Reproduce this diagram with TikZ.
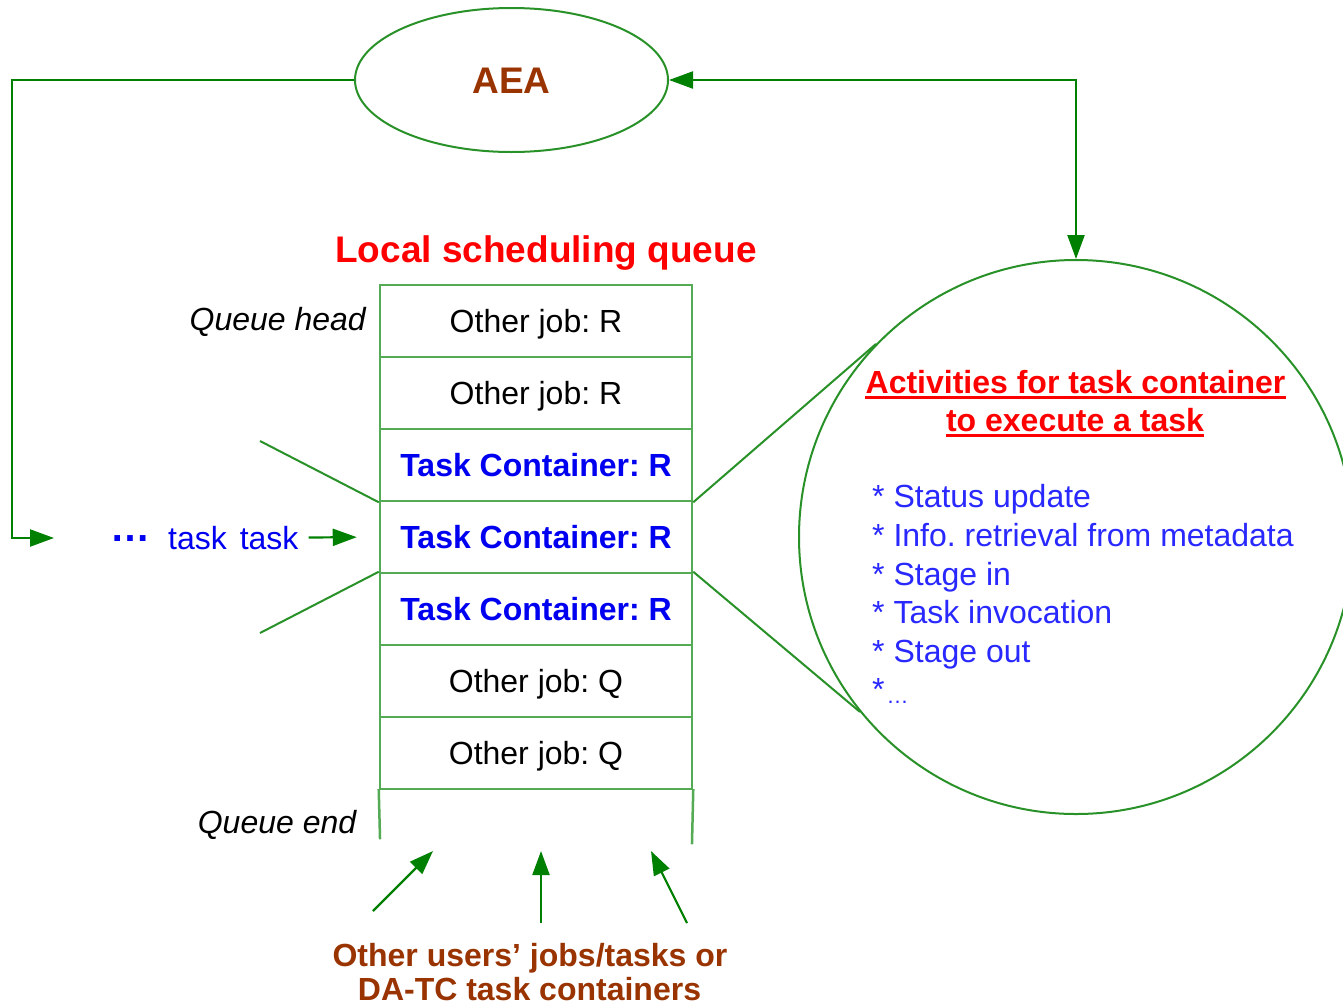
\documentclass[tikz,border=0pt]{standalone}
\usepackage{fontspec}
\setmainfont{Liberation Sans}
\usetikzlibrary{shapes.geometric,arrows.meta}
\definecolor{boxg}{RGB}{85,170,85}
\definecolor{lineg}{RGB}{40,145,40}
\definecolor{arrg}{RGB}{0,128,0}
\definecolor{brn}{RGB}{153,51,0}
\definecolor{tblue}{RGB}{0,0,240}
\definecolor{lblue}{RGB}{40,40,255}
\definecolor{tred}{RGB}{255,0,0}
\newcommand{\fsz}[2]{\fontsize{#1pt}{#2pt}\selectfont}
\frenchspacing
\begin{document}
\frenchspacing
\begin{tikzpicture}[x=1pt,y=-1pt,
  row/.style={draw=boxg,line width=2.5pt,rectangle,minimum width=312pt,minimum height=72pt,
    inner sep=0pt,text height=23pt,text depth=0pt,font=\fsz{32}{38}},
  tcrow/.style={row,text=tblue,font=\bfseries\fsz{32}{38}},
  arr/.style={draw=arrg,line width=2.2pt,-{Triangle[length=24pt,width=17pt]}},
  darr/.style={draw=arrg,line width=2.2pt,{Triangle[length=24pt,width=17pt]}-{Triangle[length=24pt,width=17pt]}},
  thin/.style={draw=lineg,line width=2pt},
  lbl/.style={inner sep=0pt,font=\fsz{32}{38}},
  item/.style={lbl,anchor=base west,text=lblue},
  ul/.style={draw=tred,line width=2.5pt},
  qside/.style={draw=boxg,line width=2.5pt,line cap=rect}
]
\useasboundingbox (0,0) rectangle (1343,1007);
\fill[white] (0,0) rectangle (1343,1007);
\clip (0,0) rectangle (1343,1007);

% AEA ellipse
\node[ellipse,draw=lineg,line width=2pt,minimum width=313pt,minimum height=144pt,inner sep=0pt,
  text height=26.5pt,text depth=0pt,text=brn,font=\bfseries\fsz{37}{40}] (aea) at (511.5,80) {AEA};

% title
\node[lbl,anchor=base,text=tred,font=\bfseries\fsz{37}{40}] (title) at (546,262) {Local scheduling queue};

% queue rows
\node[row]   (r1) at (536,321) {Other job: R};
\node[row]   (r2) at (536,393) {Other job: R};
\node[tcrow] (r3) at (536,465) {Task Container: R};
\node[tcrow] (r4) at (536,537) {Task Container: R};
\node[tcrow] (r5) at (536,609) {Task Container: R};
\node[row]   (r6) at (536,681) {Other job: Q};
\node[row]   (r7) at (536,753) {Other job: Q};
\coordinate (qbl) at (380,838);
\coordinate (qbr) at (692,843);
\draw[qside] (r7.south west) -- (qbl);
\draw[qside] (r7.south east) -- (qbr);

\node[lbl,anchor=base east,font=\itshape\fsz{32}{38}] (qh) at (366,330) {Queue head};
\node[lbl,anchor=base,font=\itshape\fsz{32}{38}] (qe) at (277,833) {Queue end};

% big circle
\node[circle,draw=lineg,line width=2pt,minimum size=554pt,inner sep=0pt] (circ) at (1076,537) {};

% lines to circle and to the left
\coordinate (dl1) at (260,441);
\coordinate (dl2) at (260,633);
\draw[thin] (dl1) -- (r3.south west);
\draw[thin] (dl2) -- (r5.north west);
\draw[thin] (r3.south east) -- (circ.136);
\draw[thin] (r5.north east) -- (circ.219);

% AEA connectors
\coordinate (lc) at (12,538);
\coordinate (le) at (54,538);
\draw[arr] (aea.west) -| (lc) -- (le);
\draw[darr] (circ.north) |- (aea.east);

% task task
\node[lbl,anchor=base west,text=tblue,font=\bfseries\fsz{40}{40}] (dots) at (110,541) {…};
\node[lbl,anchor=base west,text=tblue] (tt) at (168,549) {task\hspace{4pt} task};
\draw[arr,shorten <=10pt,shorten >=22pt] (tt.east) -- (r4.west);

% circle text
\node[lbl,anchor=base,text=tred,font=\bfseries\fsz{32}{38}] (h1) at (1075.5,393) {Activities for task container};
\node[lbl,anchor=base,text=tred,font=\bfseries\fsz{32}{38}] (h2) at (1075,431) {to execute a task};
\draw[ul] ([yshift=-4.5pt]h1.base west) -- ([yshift=-4.5pt]h1.base east);
\draw[ul] ([yshift=-4.5pt]h2.base west) -- ([yshift=-4.5pt]h2.base east);

\node[item] (l1) at (872,507) {* Status update};
\node[item] (l2) at (872,546) {* Info. retrieval from metadata};
\node[item] (l3) at (872,585) {* Stage in};
\node[item] (l4) at (872,623) {* Task invocation};
\node[item] (l5) at (872,662) {* Stage out};
\node[item] (l6) at (872,700) {*\hspace{2pt}\raisebox{-3pt}{\fsz{22}{22}…}};

% bottom arrows and text
\coordinate (b1s) at (373,911);
\coordinate (b1e) at (433,851);
\coordinate (b2s) at (541,923);
\coordinate (b2e) at (541,851);
\coordinate (b3s) at (687,923);
\coordinate (b3e) at (651,851);
\draw[arr] (b1s) -- (b1e);
\draw[arr] (b2s) -- (b2e);
\draw[arr] (b3s) -- (b3e);
\node[lbl,anchor=base,text=brn,font=\bfseries\fsz{32}{38}] (bt1) at (530,966) {Other users’ jobs/tasks or};
\node[lbl,anchor=base,text=brn,font=\bfseries\fsz{32}{38}] (bt2) at (529.5,1000) {DA-TC task containers};
\end{tikzpicture}
\end{document}
